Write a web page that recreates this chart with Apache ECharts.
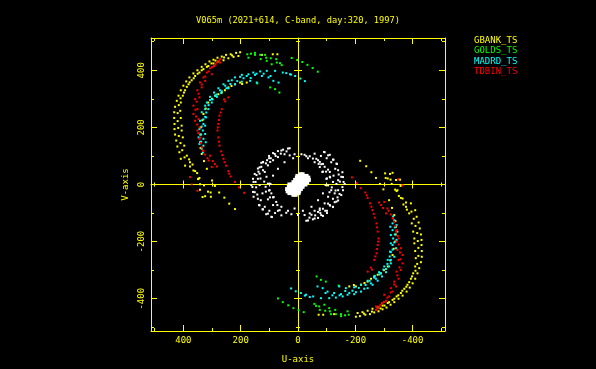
<!DOCTYPE html>
<html><head><meta charset="utf-8">
<style>html,body{margin:0;padding:0;background:#000}#c{width:596px;height:369px}</style>
<script src="https://cdn.jsdelivr.net/npm/echarts@6/dist/echarts.min.js"></script>
</head><body><div id="c"></div>
<script>
const titleText = 'V065m (2021+614, C-band, day:320, 1997)';
const stationNames = ['GBANK_TS','GOLDS_TS','MADRD_TS','TDBIN_TS'];
const stationColors = ['#ffff00','#00ff00','#00ffff','#ff0000'];
const majorTicks = [-400,-200,0,200,400];
const minorTicks = [-500,-300,-100,100,300,500];
const axisMin = -513, axisMax = 513;

const gbankUV = [
[202,463],[216,461],[235,456],[251,454],[266,448],[281,444],[295,437],[309,431],[323,421],[336,412],[351,400],[365,389],[379,375],[390,361],[400,346],[409,330],[417,311],[423,293],[429,272],[432,253],[432,233],[431,212],[431,194],[429,175],[425,154],[421,133],[414,113],[409,90],[394,66],[377,63],[359,47],[347,20],
[208,450],[225,447],[243,442],[260,435],[278,431],[295,424],[313,415],[330,404],[344,392],[359,380],[371,365],[382,351],[394,330],[402,311],[409,287],[411,258],[409,233],[406,206],[406,189],[402,165],[397,136],[388,101],[377,78],[365,49],[344,23],
[179,357],[202,357],[220,351],[243,340],[266,322],[289,311],[313,287],[330,247],[339,200],[342,148],[336,107],[318,55],
[126,454],[88,456],[72,456],
[230,452],[258,445],[288,434],[302,424],[318,412],[336,400],[350,388],[364,372],[378,358],[388,342],[398,322],[410,302],[416,278],[420,250],[420,222],[418,198],[416,170],[410,145],[404,120],[396,95],[380,88],[368,70],[352,40],
[195,352],[232,345],[255,330],[278,316],[300,300],[322,266],[334,225],[341,175],[340,128],[328,82],
[349,19],[300,14],[342,1],[328,-3],[290,-5],[342,-18],[314,-25],[305,-28],[275,-28],[324,-41],[333,-44],[304,-43],[257,-46],[240,-67],[220,-86],
[-202,-463],[-216,-461],[-235,-456],[-251,-454],[-266,-448],[-281,-444],[-295,-437],[-309,-431],[-323,-421],[-336,-412],[-351,-400],[-365,-389],[-379,-375],[-390,-361],[-400,-346],[-409,-330],[-417,-311],[-423,-293],[-429,-272],[-432,-253],[-432,-233],[-431,-212],[-431,-194],[-429,-175],[-425,-154],[-421,-133],[-414,-113],[-409,-90],[-394,-66],[-377,-63],[-359,-47],[-347,-20],
[-208,-450],[-225,-447],[-243,-442],[-260,-435],[-278,-431],[-295,-424],[-313,-415],[-330,-404],[-344,-392],[-359,-380],[-371,-365],[-382,-351],[-394,-330],[-402,-311],[-409,-287],[-411,-258],[-409,-233],[-406,-206],[-406,-189],[-402,-165],[-397,-136],[-388,-101],[-377,-78],[-365,-49],[-344,-23],
[-179,-357],[-202,-357],[-220,-351],[-243,-340],[-266,-322],[-289,-311],[-313,-287],[-330,-247],[-339,-200],[-342,-148],[-336,-107],[-318,-55],
[-126,-454],[-88,-456],[-72,-456],
[-230,-452],[-258,-445],[-288,-434],[-302,-424],[-318,-412],[-336,-400],[-350,-388],[-364,-372],[-378,-358],[-388,-342],[-398,-322],[-410,-302],[-416,-278],[-420,-250],[-420,-222],[-418,-198],[-416,-170],[-410,-145],[-404,-120],[-396,-95],[-380,-88],[-368,-70],[-352,-40],
[-195,-352],[-232,-345],[-255,-330],[-278,-316],[-300,-300],[-322,-266],[-334,-225],[-341,-175],[-340,-128],[-328,-82],
[-217,83],[-238,64],[-256,43],[-272,23],[-304,39],[-321,37],[-330,41],[-306,23],[-313,21],[-323,17],[-342,16],[-356,17],[-286,2],[-327,2],[-358,-5],[-298,-17],[-339,-18]
];
const goldsUV = [
[177,456],[173,444],[164,458],[150,461],[150,454],[132,454],[130,439],[115,454],[111,444],[109,433],[95,442],[92,421],[76,439],[74,427],[63,425],[57,418],[97,340],[142,354],[65,322],[80,334],
[22,443],[3,436],[-15,429],[-33,419],[-51,408],[-69,395],
[-177,-456],[-173,-444],[-164,-458],[-150,-461],[-150,-454],[-132,-454],[-130,-439],[-115,-454],[-111,-444],[-109,-433],[-95,-442],[-92,-421],[-76,-439],[-74,-427],[-63,-425],[-57,-418],[-97,-340],[-142,-354],[-65,-322],[-80,-334],
[70,-399],[53,-412],[34,-423],[16,-433],[-2,-440],[-20,-447]
];
const madrdUV = [
[41,390],[24,385],[10,380],[28,386],[53,392],[80,398],[109,398],[132,396],[156,392],[173,386],[196,384],[220,375],[243,363],[260,351],[278,337],[293,322],[307,307],[318,287],[324,264],[324,237],[330,212],[332,189],[330,160],[330,136],
[68,357],[86,363],[103,375],[126,380],[150,384],[179,380],[202,377],[231,365],[254,346],[272,330],[289,311],[307,296],[324,276],[336,253],[342,223],[344,194],[347,165],[344,142],[336,125],
[144,357],[167,363],[196,360],[220,351],[243,337],[266,326],[283,307],[301,287],[313,264],[321,235],[324,206],[324,177],[322,148],
[96,380],[120,388],[145,388],[165,373],[190,372],[212,362],[236,352],[250,337],[268,320],[284,315],[298,298],[312,278],[320,252],[330,228],[336,203],[338,175],[338,150],[332,112],
[-8,371],[-24,362],
[-41,-394],[-24,-389],[-10,-380],[-28,-386],[-53,-392],[-80,-398],[-109,-398],[-132,-396],[-156,-392],[-173,-386],[-196,-384],[-220,-375],[-243,-363],[-260,-351],[-278,-337],[-293,-322],[-307,-307],[-318,-287],[-324,-264],[-324,-237],[-330,-212],[-332,-189],[-330,-160],[-330,-136],
[-68,-357],[-86,-363],[-103,-375],[-126,-380],[-150,-384],[-179,-380],[-202,-377],[-231,-365],[-254,-346],[-272,-330],[-289,-311],[-307,-296],[-324,-276],[-336,-253],[-342,-223],[-344,-194],[-347,-165],[-344,-142],[-336,-125],
[-144,-357],[-167,-363],[-196,-360],[-220,-351],[-243,-337],[-266,-326],[-283,-307],[-301,-287],[-313,-264],[-321,-235],[-324,-206],[-324,-177],[-322,-148],
[-96,-380],[-120,-388],[-145,-388],[-165,-373],[-190,-372],[-212,-362],[-236,-352],[-250,-337],[-268,-320],[-284,-315],[-298,-298],[-312,-278],[-320,-252],[-330,-228],[-336,-203],[-338,-175],[-338,-150],[-332,-112],
[24,-364],[8,-374]
];
const tdbinUV = [
[272,439],[284,427],[293,415],[307,407],[318,392],[330,375],[342,357],[351,330],[359,299],[365,276],[365,247],[359,223],[351,189],[344,160],[336,130],[324,105],[312,84],
[272,427],[301,386],[324,363],[336,340],[344,305],[351,264],[347,229],[344,200],[342,165],[332,119],[307,101],[297,82],[283,63],[301,61],
[243,305],[254,291],[266,264],[274,241],[278,212],[281,189],[278,165],[274,136],[268,116],[260,90],[251,66],[243,47],[235,28],[220,9],[206,-10],[188,-29],[371,0],[377,26],[351,-22],
[278,433],[288,421],[300,411],[312,396],[324,378],[336,350],[347,318],[354,290],[358,262],[356,238],[352,210],[348,180],[340,145],[330,118],[316,92],[290,72],
[258,298],[270,252],[276,226],[280,200],[276,150],[264,103],[256,78],[240,38],
[-272,-439],[-284,-427],[-293,-415],[-307,-407],[-318,-392],[-330,-375],[-342,-357],[-351,-330],[-359,-299],[-365,-276],[-365,-247],[-359,-223],[-351,-189],[-344,-160],[-336,-130],[-324,-105],[-312,-84],
[-272,-427],[-301,-386],[-324,-363],[-336,-340],[-344,-305],[-351,-264],[-347,-229],[-344,-200],[-342,-165],[-332,-119],[-307,-101],[-297,-82],[-283,-63],[-301,-61],
[-243,-305],[-254,-291],[-266,-264],[-274,-241],[-278,-212],[-281,-189],[-278,-165],[-274,-136],[-268,-116],[-260,-90],[-251,-66],[-243,-47],[-235,-28],[-188,25],[-205,5],[-219,-13],[-350,18],[-365,-3],
[-278,-433],[-288,-421],[-300,-411],[-312,-396],[-324,-378],[-336,-350],[-347,-318],[-354,-290],[-358,-262],[-356,-238],[-352,-210],[-348,-180],[-340,-145],[-330,-118],[-316,-92],[-290,-72],
[-258,-298],[-270,-252],[-276,-226],[-280,-200],[-276,-150],[-264,-103],[-256,-78],[-240,-38]
];
const ringUV = [
[35,126],[52,122],[70,117],[87,110],[101,100],[122,79],[140,56],[145,33],[155,9],[163,-2],[157,-26],[155,-43],[136,-72],[124,-87],[111,-104],[93,-113],
[47,106],[70,96],[87,85],[105,67],[122,50],[131,21],[134,-2],[124,-31],[105,-52],[87,-72],[64,-90],[41,-99],[23,-104],[0,-107],[-23,-107],[-41,-101],[-58,-92],[-76,-84],[-93,-66],[-105,-43],[-116,-20],[-122,9],[-111,44],[-93,62],[-76,79],[-52,91],[-29,99],[-12,106],[12,106],[29,102],
[110,27],[105,3],[99,-20],[87,-45],[76,-61],[58,-78],[-85,44],[-101,21],[-96,-2],[-87,-31],[-70,-55],[-47,-78],[-17,-92],[12,-84],
[-91,114],[-105,102],[-122,87],[-134,73],[-140,50],[-151,27],[-159,9],[-157,-20],[-151,-37],[-134,-60],[-122,-78],[-101,-92],[-81,-107],[-58,-119],[-29,-127],
[128,76],[134,38],[148,9],[116,44],[113,-8],[93,-31],[70,-92],[-70,85],[-81,71],[-111,27],[-140,15],[-128,-31],[-111,-72],[-76,-90],[108,85],[97,79],
[-35,-126],[-52,-122],[-70,-117],[-87,-110],[-101,-100],[-122,-79],[-140,-56],[-145,-33],[-155,-9],[-163,2],[-157,26],[-155,43],[-136,72],[-124,87],[-111,104],[-93,113],
[91,-114],[105,-102],[122,-87],[134,-73],[140,-50],[151,-27],[159,-9],[157,20],[151,37],[134,60],[122,78],[101,92],[81,107],[58,119],[29,127],
[-47,-106],[-70,-96],[-87,-85],[-105,-67],[-122,-50],[-131,-21],[-134,2],[-124,31],[-105,52],[-87,72],[-64,90],[-41,99],[-23,104],
[-110,-27],[-105,-3],[-99,20],[-87,45],[-76,61],[-58,78],[85,-44],[101,-21],[96,2],[87,31],[70,55],[47,78],[17,92],
[40,116],[60,108],[78,100],[95,92],[112,74],[128,62],[138,45],[140,20],[146,-10],[142,-35],[130,-55],[116,-78],[100,-92],[80,-100],[58,-108],[118,10],[112,-25],[98,-45],[72,-72],[35,-92],
[-40,-116],[-60,-108],[-78,-100],[-95,-92],[-112,-74],[-128,-62],[-138,-45],[-140,-20],[-146,10],[-142,35],[-130,55],[-116,78],[-100,92],[-80,100],[-58,108],[-118,-10],[-112,25],[-98,45],[-72,72],[-35,92]
];
const coreUV = [
[-16,36],[-8,36],
[-30,30],[-22,30],[-14,30],[-6,30],[2,30],
[-36,24],[-28,24],[-20,24],[-12,24],[-4,24],[4,24],
[-38,16],[-30,16],[-22,16],[-14,16],[-6,16],[2,16],[10,16],
[-32,8],[-24,8],[-16,8],[-8,8],[0,8],[8,8],[16,8],
[-26,0],[-18,0],[-10,0],[-2,0],[6,0],[14,0],[22,0],[30,0],
[-16,-8],[-8,-8],[0,-8],[8,-8],[16,-8],[24,-8],[32,-8],
[-10,-16],[-2,-16],[6,-16],[14,-16],[22,-16],[30,-16],[38,-16],
[-4,-24],[4,-24],[12,-24],[20,-24],[28,-24],[36,-24],
[-2,-30],[6,-30],[14,-30],[22,-30],[30,-30],
[8,-36],[16,-36]
];

const Y = '#ffff00';
const FONT = '"DejaVu Sans Mono", monospace';
const LEN = 294, HGT = 293;

function ax(extra, vals, len, inside, show){
  return Object.assign({
    type:'value', min:axisMin, max:axisMax, interval:100,
    splitLine:{show:false},
    axisLine:{show:!!show, onZero:false, lineStyle:{color:Y,width:1}},
    axisTick:{show:true, inside:inside, length:len, customValues:vals, lineStyle:{color:Y,width:1}},
    axisLabel:{show:false}
  }, extra);
}
const xAxes = [
  ax({position:'bottom', inverse:true}, majorTicks, 6, true, true),
  ax({position:'bottom', inverse:true}, minorTicks, 3, true),
  ax({position:'top', inverse:true}, majorTicks, 6, true, true),
  ax({position:'top', inverse:true}, minorTicks, 3, true),
  ax({position:'bottom', inverse:true, offset:-HGT/2}, majorTicks, 4, true, true),
  ax({position:'bottom', inverse:true, offset:-HGT/2}, majorTicks, 4, false),
  ax({position:'bottom', inverse:true, offset:-HGT/2}, minorTicks, 2, true),
  ax({position:'bottom', inverse:true, offset:-HGT/2}, minorTicks, 2, false)
];
const yAxes = [
  ax({position:'left'}, majorTicks, 6, true, true),
  ax({position:'left'}, minorTicks, 3, true),
  ax({position:'right'}, majorTicks, 6, true, true),
  ax({position:'right'}, minorTicks, 3, true),
  ax({position:'left', offset:-LEN/2}, majorTicks, 4, true, true),
  ax({position:'left', offset:-LEN/2}, majorTicks, 4, false),
  ax({position:'left', offset:-LEN/2}, minorTicks, 2, true),
  ax({position:'left', offset:-LEN/2}, minorTicks, 2, false)
];
xAxes[0].axisLabel = {show:true, color:Y, fontFamily:FONT, fontSize:9, margin:5, customValues:majorTicks};
xAxes[0].name = 'U-axis'; xAxes[0].nameLocation='middle'; xAxes[0].nameGap=24;
xAxes[0].nameTextStyle = {color:Y, fontFamily:FONT, fontSize:9};
yAxes[0].axisLabel = {show:true, color:Y, fontFamily:FONT, fontSize:9, margin:5, rotate:90, customValues:majorTicks};
yAxes[0].name = 'V-axis'; yAxes[0].nameLocation='middle'; yAxes[0].nameGap=21;
yAxes[0].nameTextStyle = {color:Y, fontFamily:FONT, fontSize:9};

function dots(name, data, color, size){
  return {type:'scatter', name:name, data:data, symbol:'rect', symbolSize:size,
    itemStyle:{color:color, opacity:1}, silent:true, animation:false, z:5};
}
const chart = echarts.init(document.getElementById('c'), null, {renderer:'canvas'});
chart.setOption({
  animation:false,
  backgroundColor:'#000000',
  title:{text:titleText, left:'center', top:11,
    textStyle:{color:Y, fontFamily:FONT, fontSize:8.7, fontWeight:'normal'}},
  legend:{left:474, top:36, orient:'vertical', selectedMode:false, itemWidth:0, itemHeight:0, itemGap:1.5, padding:0,
    data:stationNames.map((n,i)=>({name:n, icon:'none', textStyle:{color:stationColors[i], fontFamily:FONT, fontSize:9, padding:[0,0,0,-5]}}))},
  grid:{left:151, top:38, width:LEN, height:HGT},
  xAxis:xAxes, yAxis:yAxes,
  series:[
    dots('core', coreUV, '#ffffff', 4),
    dots('ring', ringUV, '#ffffff', 2),
    dots(stationNames[0], gbankUV, stationColors[0], 2),
    dots(stationNames[1], goldsUV, stationColors[1], 2),
    dots(stationNames[2], madrdUV, stationColors[2], 2),
    dots(stationNames[3], tdbinUV, stationColors[3], 2)
  ]
});
</script></body></html>
